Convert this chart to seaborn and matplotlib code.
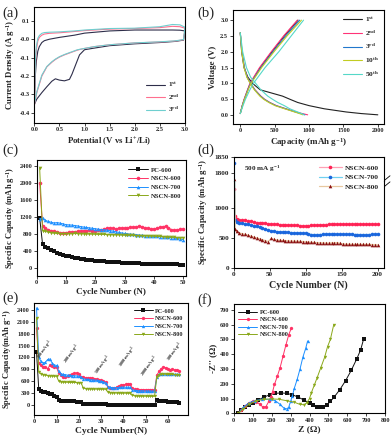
import numpy as np
import pandas as pd
import seaborn as sns
import matplotlib.pyplot as plt

# ---------------- (a) cyclic voltammetry ----------------
cath_v = [3.0, 2.97, 2.8, 2.5, 2.0, 1.5, 1.2, 1.0, 0.9, 0.85, 0.8, 0.75, 0.7, 0.6, 0.5, 0.42, 0.35, 0.25, 0.15, 0.05, 0.0]
cv1_cath = [0.045, -0.005, -0.012, -0.018, -0.025, -0.035, -0.048, -0.057, -0.085, -0.12, -0.155, -0.19, -0.218, -0.226, -0.222, -0.215, -0.228, -0.258, -0.29, -0.325, -0.355]
cv2_cath = [0.06, -0.003, -0.01, -0.015, -0.02, -0.03, -0.04, -0.05, -0.056, -0.06, -0.065, -0.07, -0.075, -0.085, -0.097, -0.11, -0.125, -0.15, -0.2, -0.29, -0.36]
cv3_cath = [0.065, -0.002, -0.009, -0.014, -0.02, -0.03, -0.04, -0.05, -0.055, -0.058, -0.063, -0.068, -0.073, -0.083, -0.095, -0.108, -0.122, -0.148, -0.195, -0.285, -0.355]
anod_v = [0.0, 0.02, 0.04, 0.07, 0.1, 0.15, 0.2, 0.3, 0.5, 0.8, 1.0, 1.5, 2.0, 2.5, 2.75, 2.9, 3.0]
cv1_anod = [-0.355, -0.2, -0.12, -0.065, -0.04, -0.018, -0.008, 0.0, 0.01, 0.022, 0.033, 0.045, 0.05, 0.05, 0.05, 0.049, 0.045]
cv2_anod = [-0.36, -0.15, -0.06, -0.01, 0.01, 0.022, 0.028, 0.032, 0.035, 0.042, 0.047, 0.055, 0.058, 0.063, 0.07, 0.068, 0.06]
cv3_anod = [-0.355, -0.12, -0.04, 0.005, 0.02, 0.032, 0.036, 0.038, 0.04, 0.045, 0.05, 0.058, 0.06, 0.068, 0.08, 0.078, 0.065]
cv_labels = ["1$^{st}$", "2$^{nd}$", "3$^{rd}$"]

# ---------------- (b) charge / discharge ----------------
dis_v = [2.6, 2.0, 1.5, 1.2, 1.0, 0.8, 0.6, 0.5, 0.4, 0.3, 0.2, 0.1, 0.05, 0.01]
dis1 = [0, 20, 55, 110, 180, 290, 615, 723, 835, 1000, 1223, 1540, 1757, 2000]
dis2 = [0, 25, 60, 100, 150, 215, 300, 355, 430, 525, 665, 810, 900, 980]
dis3 = [0, 25, 60, 100, 150, 210, 295, 350, 425, 520, 660, 800, 880, 940]
dis10 = [0, 22, 55, 95, 145, 205, 285, 340, 415, 505, 645, 790, 860, 910]
dis50 = [0, 35, 90, 150, 225, 300, 400, 470, 545, 640, 720, 835, 890, 930]
chg_v = [0.05, 0.3, 0.5, 0.8, 1.0, 1.5, 2.0, 2.5, 3.0]
chg1 = [0, 30, 60, 110, 145, 290, 460, 640, 840]
chg2 = [0, 28, 55, 105, 140, 280, 450, 630, 830]
chg3 = [0, 30, 60, 110, 150, 300, 475, 660, 865]
chg10 = [0, 32, 62, 115, 155, 310, 490, 680, 890]
chg50 = [0, 40, 75, 140, 190, 360, 560, 740, 920]
gcd_labels = ["1$^{st}$", "2$^{nd}$", "3$^{rd}$", "10$^{th}$", "50$^{th}$"]

# ---------------- (c) cycling at low rate ----------------
cycles_c = list(range(1, 51))
c_pc600 = [1175, 555, 490, 455, 420, 385, 355, 330, 305, 280, 265, 248, 235, 222, 210, 200, 190, 180, 172, 165,
           158, 152, 146, 140, 135, 130, 126, 122, 118, 114, 111, 108, 105, 102, 99, 96, 94, 92, 90, 88,
           86, 84, 82, 80, 78, 76, 75, 74, 73, 72]
c_nscn600 = [2000, 980, 925, 890, 865, 850, 835, 815, 810, 825, 830, 840, 845, 855, 860, 865, 870, 875, 870, 865,
             880, 890, 905, 925, 935, 920, 915, 925, 930, 930, 940, 945, 950, 960, 975, 960, 940, 920, 910, 905,
             925, 945, 960, 975, 940, 890, 880, 890, 900, 905]
c_nscn700 = [1150, 1165, 1110, 1085, 1065, 1050, 1060, 1045, 1030, 1010, 1005, 1000, 990, 980, 965, 955, 945, 935, 925, 915,
             905, 895, 890, 880, 870, 860, 845, 830, 815, 805, 795, 785, 780, 775, 765, 760, 755, 750, 745, 740,
             735, 730, 725, 720, 712, 705, 695, 685, 672, 660]
c_nscn800 = [2350, 870, 850, 835, 820, 810, 805, 800, 800, 800, 800, 802, 805, 800, 798, 795, 792, 790, 788, 785,
             782, 780, 780, 778, 776, 775, 772, 770, 768, 765, 762, 760, 758, 755, 752, 750, 748, 745, 742, 740,
             736, 732, 728, 724, 720, 716, 712, 708, 704, 700]

# ---------------- (d) cycling at 500 mA g-1 ----------------
cycles_d = [1, 2] + list(range(4, 201, 4))
d_nscn600 = [1320, 860, 810, 795, 800, 790, 780, 775, 765, 755, 750, 745, 740, 735, 735, 730, 725, 720, 722, 718,
             715, 712, 708, 715, 705, 700, 695, 700, 710, 712, 715, 718, 720, 722, 725, 728, 730, 728, 725, 728,
             730, 730, 728, 730, 728, 725, 728, 730, 728, 730, 732, 730]
d_nscn700 = [1830, 790, 760, 745, 740, 735, 725, 715, 700, 690, 675, 660, 645, 630, 620, 612, 605, 600, 595, 592,
             590, 588, 585, 583, 580, 578, 575, 570, 555, 555, 555, 556, 558, 560, 562, 562, 562, 560, 560, 560,
             560, 558, 558, 556, 556, 555, 555, 555, 556, 558, 560, 565]
d_nscn800 = [1780, 650, 610, 580, 570, 560, 545, 530, 515, 500, 485, 470, 455, 440, 490, 475, 465, 460, 458, 455,
             452, 450, 448, 446, 444, 440, 436, 432, 428, 425, 422, 420, 418, 416, 414, 418, 420, 422, 410, 400,
             398, 396, 395, 395, 394, 394, 393, 393, 392, 390, 388, 386]
d_low_ticks = [0, 500, 1000]
d_high_ticks = [1800, 1850]

# ---------------- (e) rate performance ----------------
cycles_e = list(range(1, 66))
e_pc600 = [1330, 400, 350, 340, 320, 300, 285, 270, 240, 200,
           130, 105, 100, 98, 96, 95, 93, 92, 90, 88, 85,
           35, 30, 28, 27, 26, 25, 24, 23, 22, 21, 20,
           8, 7, 7, 6, 6, 6, 5, 5, 5, 5, 5,
           4, 4, 4, 4, 4, 4, 4, 4, 4, 4, 4,
           120, 115, 108, 100, 95, 90, 85, 80, 75, 70, 65]
e_nscn600 = [1930, 1050, 1000, 970, 950, 920, 1000, 990, 970, 950,
             800, 760, 720, 700, 730, 760, 780, 800, 810, 790, 720,
             700, 690, 680, 675, 670, 665, 660, 640, 620, 600, 580,
             450, 430, 430, 435, 450, 480, 500, 510, 520, 530, 525,
             420, 400, 395, 392, 390, 390, 390, 388, 388, 386, 385,
             750, 850, 920, 960, 940, 900, 880, 900, 890, 880, 870]
e_nscn700 = [2450, 1200, 1100, 1060, 1080, 1150, 1160, 1060, 1010, 1000,
             850, 790, 775, 765, 755, 750, 745, 740, 735, 725, 705,
             665, 650, 645, 640, 635, 630, 625, 615, 600, 585, 565,
             465, 445, 440, 440, 442, 445, 448, 450, 450, 452, 450,
             385, 370, 365, 362, 360, 358, 356, 355, 354, 352, 350,
             700, 780, 790, 790, 788, 785, 783, 780, 778, 775, 772]
e_nscn800 = [2200, 830, 790, 770, 755, 745, 740, 735, 730, 725,
             600, 585, 580, 578, 575, 573, 572, 570, 568, 566, 562,
             430, 415, 410, 408, 406, 405, 404, 403, 402, 401, 400,
             330, 315, 310, 308, 306, 305, 304, 303, 302, 301, 300,
             245, 235, 230, 228, 227, 226, 225, 224, 223, 222, 220,
             720, 770, 780, 780, 778, 776, 775, 773, 770, 768, 765]
rate_labels = ["100 mA g$^{-1}$", "200 mA g$^{-1}$", "500 mA g$^{-1}$",
               "1000 mA g$^{-1}$", "2000 mA g$^{-1}$", "100 mA g$^{-1}$"]
rate_x = [5, 17, 31, 42, 52, 63.5]
rate_y = [1390, 1290, 1010, 1210, 985, 1340]

# ---------------- (f) Nyquist plots ----------------
f_pc600_x = [25, 40, 60, 80, 100, 130, 160, 190, 220, 250, 280, 310, 340, 370, 400, 420, 440, 455, 470, 490,
             510, 530, 560, 590, 620, 650, 670, 685]
f_pc600_y = [0, 20, 40, 55, 70, 90, 110, 125, 135, 138, 135, 125, 110, 90, 70, 55, 45, 40, 42, 55,
             80, 110, 160, 220, 290, 370, 430, 500]
f_n600_x = [25, 40, 60, 80, 100, 120, 140, 155, 170, 185, 195, 205, 215, 230, 245, 260, 275, 290, 305]
f_n600_y = [0, 25, 50, 70, 80, 78, 60, 40, 45, 80, 110, 145, 195, 250, 310, 385, 460, 530, 580]
f_n700_x = [25, 50, 80, 110, 150, 190, 220, 245, 265, 280, 290, 300, 310, 320, 335, 350, 365, 380, 390]
f_n700_y = [0, 40, 70, 85, 95, 95, 85, 60, 35, 30, 40, 80, 120, 170, 230, 300, 380, 440, 490]
f_n800_x = [25, 50, 80, 120, 160, 200, 240, 280, 320, 350, 370, 385, 400, 410, 425, 440, 460, 480, 495, 510, 528]
f_n800_y = [0, 30, 60, 85, 95, 97, 95, 85, 75, 60, 58, 70, 100, 140, 190, 240, 310, 380, 450, 500, 600]

sample_names = ["PC-600", "NSCN-600", "NSCN-700", "NSCN-800"]

COL_PC = "#111111"
COL_600 = "#ff3366"
COL_700 = "#1e90ff"
COL_800 = "#8aa81a"


def style_axes(ax, tick_fs):
    for sp in ax.spines.values():
        sp.set_linewidth(0.8)
        sp.set_color("black")
    ax.tick_params(direction="out", length=2, width=0.6, pad=1.2, labelsize=tick_fs)


def finish_legend(ax, fs, **kw):
    ax.legend(frameon=False, fontsize=fs, borderpad=0.2, handletextpad=0.4, **kw)


def plot_cv(ax):
    data = [(cv1_cath, cv1_anod, "#2e2e4a"), (cv2_cath, cv2_anod, "#ff6f8f"), (cv3_cath, cv3_anod, "#6fcfcf")]
    for (cath, anod, col), lab in zip(data, cv_labels):
        df = pd.DataFrame({"v": cath_v + anod_v, "i": cath + anod})
        sns.lineplot(data=df, x="v", y="i", sort=False, estimator=None, color=col, lw=0.8, ax=ax, label=lab)
    ax.set_xlim(0, 3.0)
    ax.set_ylim(-0.455, 0.175)
    ax.set_xticks(np.arange(0, 3.01, 0.5))
    ax.set_yticks(np.arange(-0.4, 0.11, 0.1))
    ax.xaxis.set_major_formatter(plt.FormatStrFormatter("%.1f"))
    ax.yaxis.set_major_formatter(plt.FormatStrFormatter("%.1f"))
    ax.set_xlabel("Potential (V vs Li$^{+}$/Li)", fontsize=6.3, labelpad=2)
    ax.set_ylabel("Current Density (A g$^{-1}$)", fontsize=6.3, labelpad=2)
    style_axes(ax, 4.6)
    finish_legend(ax, 5.3, loc="lower right", bbox_to_anchor=(1.0, 0.03), handlelength=2.6, labelspacing=0.45)


def plot_gcd(ax):
    cols = ["#222222", "#ff3377", "#2277cc", "#c2cc22", "#55d8c8"]
    dis = [dis1, dis2, dis3, dis10, dis50]
    chg = [chg1, chg2, chg3, chg10, chg50]
    for d, c, col, lab in zip(dis, chg, cols, gcd_labels):
        sns.lineplot(x=d, y=dis_v, sort=False, estimator=None, color=col, lw=0.8, ax=ax, label=lab)
        sns.lineplot(x=c, y=chg_v, sort=False, estimator=None, color=col, lw=0.8, ax=ax)
    ax.set_xlim(-110, 2090)
    ax.set_ylim(-0.28, 3.32)
    ax.set_xticks([0, 500, 1000, 1500, 2000])
    ax.set_yticks(np.arange(0, 3.01, 0.5))
    ax.yaxis.set_major_formatter(plt.FormatStrFormatter("%.1f"))
    ax.set_xlabel("Capacity (mAh g$^{-1}$)", fontsize=6.5, labelpad=2)
    ax.set_ylabel("Voltage (V)", fontsize=6.5, labelpad=2)
    style_axes(ax, 4.6)
    finish_legend(ax, 5.3, loc="upper right", handlelength=2.6, labelspacing=0.6)


def plot_cycling(ax):
    series = [(c_pc600, COL_PC, "s"), (c_nscn600, COL_600, "o"), (c_nscn700, COL_700, "^"), (c_nscn800, COL_800, "v")]
    for (vals, col, mk), name in zip(series, sample_names):
        sns.lineplot(x=cycles_c, y=vals, color=col, lw=0.7, marker=mk, markersize=2.6,
                     markeredgewidth=0, ax=ax, label=name)
    ax.set_xlim(0, 51)
    ax.set_ylim(-190, 2530)
    ax.set_xticks(range(0, 51, 10))
    ax.set_yticks(range(0, 2401, 400))
    ax.set_xlabel("Cycle Number (N)", fontsize=6.5, labelpad=2)
    ax.set_ylabel("Specific Capacity (mAh g$^{-1}$)", fontsize=6.0, labelpad=2)
    style_axes(ax, 4.6)
    finish_legend(ax, 4.8, loc="upper right", bbox_to_anchor=(1.0, 0.98), handlelength=3.0, labelspacing=0.45)


def plot_long_cycling(ax_hi, ax_lo):
    # broken y axis drawn as two stacked axes
    series = [(d_nscn600, "#ff2255", "#ffa0b4", "o", "NSCN-600"),
              (d_nscn700, "#1a66dd", "#70d0f0", "o", "NSCN-700"),
              (d_nscn800, "#8b1010", "#e8c8a0", "^", "NSCN-800")]
    for ax in (ax_hi, ax_lo):
        for vals, mcol, lcol, mk, name in series:
            sns.lineplot(x=cycles_d, y=vals, color=lcol, lw=0.9, marker=mk, markersize=2.6,
                         markerfacecolor=mcol, markeredgewidth=0, ax=ax,
                         label=name if ax is ax_lo else None, legend=ax is ax_lo)
        ax.set_xlim(0, 209)
        ax.set_facecolor("none")
        style_axes(ax, 5.2)
    ax_hi.set_ylim(1775, 1850)
    ax_hi.set_yticks(d_high_ticks)
    ax_hi.set_xticks([])
    ax_hi.spines["bottom"].set_visible(False)
    ax_hi.set_ylabel("")
    ax_lo.set_ylim(0, 1445)
    ax_lo.set_yticks(d_low_ticks)
    ax_lo.spines["top"].set_visible(False)
    ax_lo.set_xticks(range(0, 201, 50))
    ax_lo.set_xlabel("Cycle Number (N)", fontsize=7.2, labelpad=2)
    ax_lo.set_ylabel("Specific Capacity (mAh g$^{-1}$)", fontsize=6.3)
    ax_lo.yaxis.set_label_coords(-0.155, 0.64)
    ax_hi.text(0.07, 0.5, "500 mA g$^{-1}$", transform=ax_hi.transAxes, fontsize=5.2, va="center")
    for dy in (-0.035, 0.035):
        ax_lo.plot([1.005, 1.04], [1.0 + dy - 0.025, 1.0 + dy + 0.025], transform=ax_lo.transAxes,
                   color="black", lw=0.6, clip_on=False)
    finish_legend(ax_lo, 5.4, loc="upper right", bbox_to_anchor=(1.0, 1.25), handlelength=3.0, labelspacing=0.45)


def plot_rate(ax):
    series = [(e_pc600, COL_PC, "s"), (e_nscn600, COL_600, "o"), (e_nscn700, COL_700, "^"), (e_nscn800, COL_800, "v")]
    for (vals, col, mk), name in zip(series, sample_names):
        sns.lineplot(x=cycles_e, y=vals, color=col, lw=0.7, marker=mk, markersize=2.4,
                     markeredgewidth=0, ax=ax, label=name)
    for x, y, t in zip(rate_x, rate_y, rate_labels):
        ax.text(x, y, t, rotation=55, fontsize=3.2, ha="center", va="center")
    ax.set_xlim(0, 69)
    ax.set_ylim(-250, 2580)
    ax.set_xticks(range(0, 61, 10))
    ax.set_yticks(range(0, 2401, 300))
    ax.set_xlabel("Cycle Number(N)", fontsize=6.8, labelpad=2)
    ax.set_ylabel("Specific Capacity(mAh g$^{-1}$)", fontsize=6.0, labelpad=2)
    style_axes(ax, 4.6)
    finish_legend(ax, 4.5, loc="upper right", bbox_to_anchor=(1.0, 0.99), handlelength=3.0, labelspacing=0.4)


def plot_eis(ax):
    series = [(f_pc600_x, f_pc600_y, COL_PC, "s"), (f_n600_x, f_n600_y, COL_600, "o"),
              (f_n700_x, f_n700_y, COL_700, "^"), (f_n800_x, f_n800_y, COL_800, "v")]
    for (xs, ys, col, mk), name in zip(series, sample_names):
        sns.lineplot(x=xs, y=ys, sort=False, estimator=None, color=col, lw=0.7, marker=mk,
                     markersize=2.4, markeredgewidth=0, ax=ax, label=name)
    ax.set_xlim(0, 800)
    ax.set_ylim(0, 740)
    ax.set_xticks(range(0, 801, 100))
    ax.set_yticks(range(0, 701, 100))
    ax.set_xlabel("Z (\u03a9)", fontsize=6.8, labelpad=2)
    ax.set_ylabel("-Z'' (\u03a9)", fontsize=6.5, labelpad=2)
    style_axes(ax, 4.6)
    finish_legend(ax, 4.6, loc="upper left", bbox_to_anchor=(0.0, 0.99), handlelength=3.0, labelspacing=0.3)


def main():
    sns.set_style("ticks")
    plt.rcParams["font.family"] = ["Liberation Serif", "DejaVu Serif"]
    plt.rcParams["font.weight"] = "bold"
    plt.rcParams["axes.labelweight"] = "bold"
    plt.rcParams["mathtext.fontset"] = "custom"
    plt.rcParams["mathtext.rm"] = "Liberation Serif:bold"
    plt.rcParams["mathtext.it"] = "Liberation Serif:italic:bold"
    plt.rcParams["mathtext.bf"] = "Liberation Serif:bold"
    plt.rcParams["mathtext.default"] = "rm"

    fig = plt.figure(figsize=(3.92, 4.41), dpi=100)
    W, H = 392.0, 441.0

    def add(l, t, r, b):
        return fig.add_axes([l / W, 1 - b / H, (r - l) / W, (b - t) / H])

    ax_a = add(34.3, 7, 185, 123)
    ax_b = add(232.7, 10, 384, 124)
    ax_c = add(36.7, 160, 186, 275.7)
    ax_d_hi = add(233.7, 156.7, 384, 181)
    ax_d_lo = add(233.7, 181, 384, 268)
    ax_e = add(34.3, 302.7, 188, 415)
    ax_f = add(233.7, 304, 385.3, 413.3)

    plot_cv(ax_a)
    plot_gcd(ax_b)
    plot_cycling(ax_c)
    plot_long_cycling(ax_d_hi, ax_d_lo)
    plot_rate(ax_e)
    plot_eis(ax_f)

    for lab, x, y in [("(a)", 2, 13), ("(b)", 197, 13), ("(c)", 2, 150),
                      ("(d)", 197, 150), ("(e)", 2, 298), ("(f)", 197, 300)]:
        fig.text(x / W, 1 - y / H, lab, fontsize=10.5, fontweight="normal", va="center", ha="left")

    fig.savefig("out.png", dpi=100)
    plt.close(fig)


if __name__ == "__main__":
    main()
